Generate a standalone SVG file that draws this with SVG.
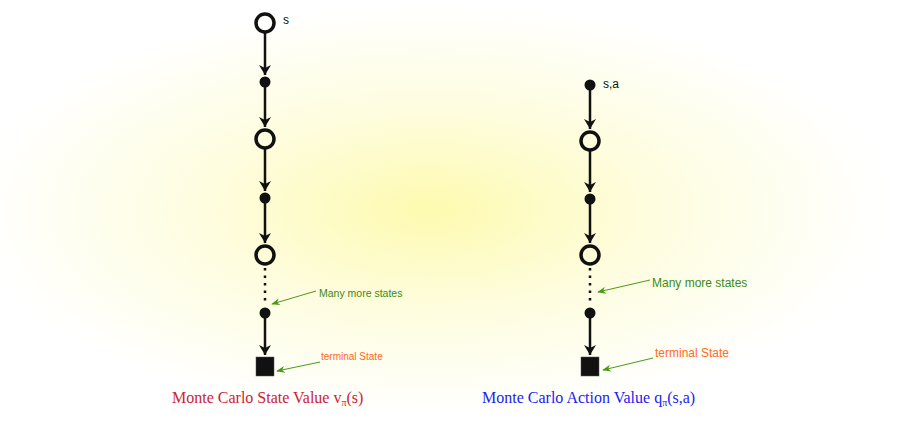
<svg xmlns="http://www.w3.org/2000/svg" width="920" height="431" viewBox="0 0 920 431">
<defs>
<radialGradient id="bg" cx="430" cy="210" r="460" gradientUnits="userSpaceOnUse" gradientTransform="translate(430 210) scale(1 0.45) translate(-430 -210)">
<stop offset="0" stop-color="#fdfab0"/><stop offset="0.5" stop-color="#fefde0"/><stop offset="1" stop-color="#ffffff"/>
</radialGradient>
<marker id="ah" viewBox="0 0 10 12" refX="10" refY="6" markerWidth="16" markerHeight="12" markerUnits="userSpaceOnUse" orient="auto"><path d="M0,0 L10,6 L0,12 L3,6 z" fill="#111"/></marker>
<marker id="ga" viewBox="0 0 10 8" refX="1" refY="4" markerWidth="9" markerHeight="7" markerUnits="userSpaceOnUse" orient="auto"><path d="M10,0 L0,4 L10,8 L7,4 z" fill="#4a9a1a"/></marker>
</defs>
<style>
.oc{fill:none;stroke:#111;stroke-width:3.5}
.dt{fill:#111}
.sq{fill:#111;stroke:#555;stroke-width:0.5}
.e{stroke:#111;stroke-width:2.5;fill:none;marker-end:url(#ah)}
.dd{stroke:#111;stroke-width:2.5;stroke-dasharray:2.5 5}
.ga{stroke:#4a9a1a;stroke-width:1;marker-start:url(#ga)}
.g{fill:#3a8a1a;font-family:'Liberation Sans',Arial,sans-serif}
.o{fill:#ff6a1a;font-family:'Liberation Sans',Arial,sans-serif}
.l{fill:#111;font-family:'Liberation Sans',Arial,sans-serif;font-size:12px}
.t{font-family:'Liberation Serif','Times New Roman',serif;font-size:16px}
</style>
<rect width="920" height="431" fill="url(#bg)"/>
<g id="connectors">
<line class="e" x1="265" y1="33" x2="265" y2="75"/>
<line class="e" x1="265" y1="87" x2="265" y2="127"/>
<line class="e" x1="265" y1="149" x2="265" y2="191"/>
<line class="e" x1="265" y1="203" x2="265" y2="243"/>
<line class="dd" x1="265" y1="268" x2="265" y2="304"/>
<line class="e" x1="265" y1="318" x2="265" y2="355"/>
<line class="e" x1="590" y1="90" x2="590" y2="129"/>
<line class="e" x1="590" y1="151" x2="590" y2="192"/>
<line class="e" x1="590" y1="204" x2="590" y2="243"/>
<line class="dd" x1="590" y1="268" x2="590" y2="304"/>
<line class="e" x1="590" y1="318" x2="590" y2="355"/>
<line class="ga" x1="272" y1="304" x2="316" y2="291"/>
<line class="ga" x1="277" y1="371" x2="320" y2="362"/>
<line class="ga" x1="598" y1="292" x2="650" y2="280"/>
<line class="ga" x1="603" y1="370" x2="653" y2="358"/>
</g>
<g id="L1"><circle class="oc" cx="265" cy="23" r="9"/><text class="l" x="283" y="24">s</text></g>
<g id="L2"><circle class="dt" cx="265" cy="82" r="5.5"/></g>
<g id="L3"><circle class="oc" cx="265" cy="139" r="9"/></g>
<g id="L4"><circle class="dt" cx="265" cy="198" r="5.5"/></g>
<g id="L5"><circle class="oc" cx="265" cy="255" r="9"/></g>
<g id="L6"><circle class="dt" cx="265" cy="313" r="5.5"/></g>
<g id="L7"><rect class="sq" x="256" y="357" width="18" height="19"/></g>
<g id="R1"><circle class="dt" cx="590" cy="85" r="5.5"/><text class="l" x="603" y="88">s,a</text></g>
<g id="R2"><circle class="oc" cx="590" cy="141" r="9"/></g>
<g id="R3"><circle class="dt" cx="590" cy="199" r="5.5"/></g>
<g id="R4"><circle class="oc" cx="590" cy="255" r="9"/></g>
<g id="R5"><circle class="dt" cx="590" cy="313" r="5.5"/></g>
<g id="R6"><rect class="sq" x="581" y="357" width="18" height="19"/></g>
<g id="labels">
<text class="g" x="319" y="297" font-size="10.5">Many more states</text>
<text class="o" x="321" y="360" font-size="10">terminal State</text>
<text class="g" x="652" y="287" font-size="12">Many more states</text>
<text class="o" x="655" y="357" font-size="12">terminal State</text>
<text class="t" x="172" y="403" fill="#cc2233">Monte Carlo State Value v<tspan font-size="10" dy="3">π</tspan><tspan dy="-3">(s)</tspan></text>
<text class="t" x="482" y="403" fill="#2222ee">Monte Carlo Action Value q<tspan font-size="10" dy="3">π</tspan><tspan dy="-3">(s,a)</tspan></text>
</g>
</svg>
